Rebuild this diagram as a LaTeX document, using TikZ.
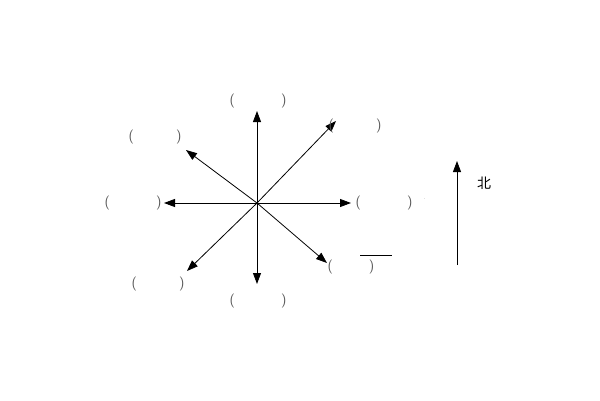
\documentclass[tikz,border=0pt]{standalone}
\usepackage{fontspec}
\newfontfamily\cjk{Noto Sans CJK SC}
\usetikzlibrary{arrows.meta}
\begin{document}
\begin{tikzpicture}[x=1pt,y=-1pt,
  arr/.style={-{Triangle[length=11pt,width=8pt]},line width=0.8pt},
  lbl/.style={text=gray!70!black,font=\sffamily\fontsize{14}{16}\selectfont,inner sep=0pt}]
\useasboundingbox (0,0) rectangle (600,400);
\coordinate (c) at (257,203);
\coordinate (n) at (257,111);
\coordinate (s) at (257,284);
\coordinate (w) at (164,203);
\coordinate (e) at (351,203);
\coordinate (ne) at (336,121);
\coordinate (nw) at (186,150);
\coordinate (sw) at (187,271);
\coordinate (se) at (327,263);
\foreach \p in {n,s,w,e,ne,nw,sw,se} \draw[arr] (c) -- (\p);
\node[lbl] (ln) at (258,101) {(\hspace{46pt})};
\node[lbl] (lne) at (355,126) {(\hspace{42pt})};
\node[lbl] (lnw) at (155,137) {(\hspace{42pt})};
\node[lbl] (lw) at (133,203) {(\hspace{46pt})};
\node[lbl] (le) at (384,203) {(\hspace{46pt})};
\node[lbl] (lse) at (351,267) {(\hspace{36pt})};
\node[lbl] (lsw) at (158,284) {(\hspace{42pt})};
\node[lbl] (ls) at (258,301) {(\hspace{46pt})};
\draw[line width=0.8pt] (360,255) -- (392,255);
\node[lbl,font=\tiny] (dot) at (425,199) {.};
\coordinate (nb) at (457,265);
\coordinate (nt) at (457,161);
\draw[arr] (nb) -- (nt);
\node[font=\cjk\fontsize{14}{16}\selectfont,inner sep=0pt] (bei) at (484,183) {北};
\end{tikzpicture}
\end{document}
